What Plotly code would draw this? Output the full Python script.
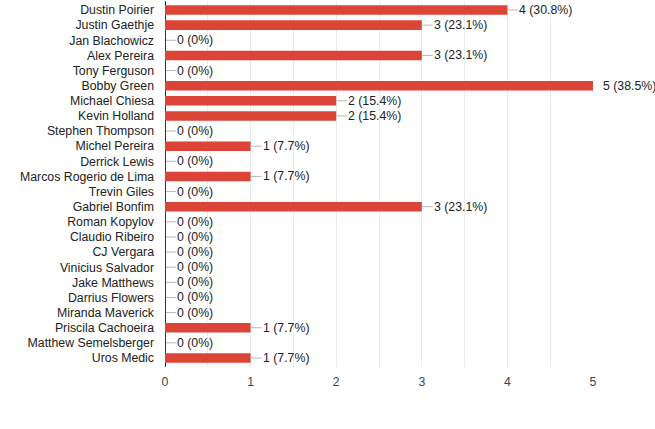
import plotly.graph_objects as go

fighters = [
    "Dustin Poirier", "Justin Gaethje", "Jan Blachowicz", "Alex Pereira", "Tony Ferguson",
    "Bobby Green", "Michael Chiesa", "Kevin Holland", "Stephen Thompson", "Michel Pereira",
    "Derrick Lewis", "Marcos Rogerio de Lima", "Trevin Giles", "Gabriel Bonfim", "Roman Kopylov",
    "Claudio Ribeiro", "CJ Vergara", "Vinicius Salvador", "Jake Matthews", "Darrius Flowers",
    "Miranda Maverick", "Priscila Cachoeira", "Matthew Semelsberger", "Uros Medic",
]
votes = [4, 3, 0, 3, 0, 5, 2, 2, 0, 1, 0, 1, 0, 3, 0, 0, 0, 0, 0, 0, 0, 1, 0, 1]
percents = ["30.8%", "23.1%", "0%", "23.1%", "0%", "38.5%", "15.4%", "15.4%", "0%", "7.7%",
            "0%", "7.7%", "0%", "23.1%", "0%", "0%", "0%", "0%", "0%", "0%", "0%", "7.7%",
            "0%", "7.7%"]
x_ticks = [0, 1, 2, 3, 4, 5]

FONT = "Liberation Sans, Arial, sans-serif"
FS = 12.3
BAR = "#db4437"

fig = go.Figure()
fig.add_trace(go.Bar(
    x=votes, y=fighters, orientation="h",
    marker=dict(color=BAR, line=dict(width=0)),
    width=0.63, hoverinfo="skip",
))

vmax = max(votes)
shapes = []
annotations = []
for name, v, p in zip(fighters, votes, percents):
    if v < vmax:
        shapes.append(dict(
            type="line", xref="x", yref="y", xsizemode="pixel", xanchor=v,
            x0=1 if v == 0 else 0, x1=11, y0=name, y1=name,
            line=dict(color="#b7b7b7", width=1), layer="above",
        ))
    annotations.append(dict(
        x=v, y=name, xref="x", yref="y", text=f"{v} ({p})",
        showarrow=False, xanchor="left", yanchor="middle",
        xshift=10 if v < vmax else 8,
        font=dict(family=FONT, size=FS, color="#222222"),
    ))

fig.update_layout(
    width=655, height=429,
    margin=dict(l=165, r=62, t=1, b=62, autoexpand=False),
    paper_bgcolor="white", plot_bgcolor="white",
    showlegend=False,
    font=dict(family=FONT, size=FS, color="#222222"),
    shapes=shapes, annotations=annotations,
    xaxis=dict(
        range=[0, 5], tickvals=x_ticks, ticktext=[str(t) for t in x_ticks],
        showgrid=True, gridcolor="#ebebeb", gridwidth=1,
        minor=dict(dtick=0.5, showgrid=True, gridcolor="#ebebeb", gridwidth=1),
        zeroline=True, zerolinecolor="#333333", zerolinewidth=1,
        showline=False, ticks="", ticklabelstandoff=6, automargin=False,
        tickfont=dict(family=FONT, size=FS, color="#444444"),
        fixedrange=True,
    ),
    yaxis=dict(
        autorange="reversed", showgrid=False, zeroline=False, showline=False,
        ticks="", ticklabelstandoff=10, automargin=False,
        tickfont=dict(family=FONT, size=FS, color="#222222"),
        fixedrange=True,
    ),
)

fig.write_html(
    "out.html",
    config={"displayModeBar": False},
    post_script="document.body.style.margin='0';document.body.style.overflow='hidden';",
)
